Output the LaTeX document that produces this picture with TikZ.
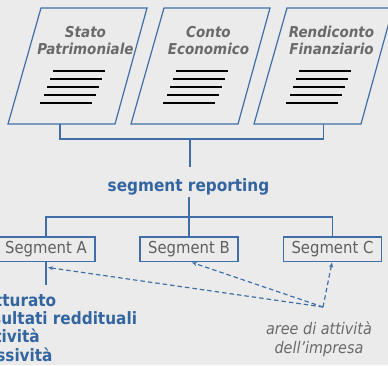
\documentclass[tikz,border=0pt]{standalone}
\usepackage{fontspec}
\setmainfont{DejaVu Sans Condensed}
\usetikzlibrary{arrows.meta}
\definecolor{bg}{HTML}{EBEBEB}
\definecolor{lblue}{HTML}{3F6FA8}
\definecolor{tblue}{HTML}{3366A0}
\definecolor{tgray}{HTML}{6A6A6A}
\definecolor{sgray}{HTML}{606060}
\tikzset{
  docshape/.style={draw=lblue, line width=1.2pt, fill=bg},
  docbar/.style={draw=black, line width=2pt},
  doctitle/.style={text=tgray, font=\bfseries\itshape\fontsize{15}{16.7}\selectfont, align=center, inner sep=0pt, anchor=base},
  conn/.style={draw=lblue, line width=1.2pt},
  segbox/.style={draw=lblue, line width=1.2pt, minimum width=98pt, minimum height=24.5pt, inner sep=0pt, text=sgray, font=\fontsize{16.5}{18}\selectfont},
  srtext/.style={text=tblue, font=\bfseries\fontsize{17}{20}\selectfont, inner sep=0pt, anchor=base},
  listtext/.style={text=tblue, font=\bfseries\fontsize{17}{18.5}\selectfont, inner sep=0pt, anchor=base west},
  areatext/.style={text=tgray, font=\itshape\fontsize{16}{19}\selectfont, inner sep=0pt, anchor=base},
  dasharr/.style={draw=lblue, line width=1.2pt, dash pattern=on 4.5pt off 3pt, -{Stealth[length=5pt,width=4pt]}},
}
\begin{document}
\begin{tikzpicture}[x=1pt,y=-1pt]
\fill[bg] (0,0) rectangle (388,365);
\useasboundingbox (0,0) rectangle (388,365);
% documents
\foreach \dx/\la/\lb [count=\i] in {0/Stato/Patrimoniale, 123/Conto/Economico, 246/Rendiconto/Finanziario}{
  \draw[docshape] (41+\dx,8) -- (147+\dx,8) -- (115+\dx,124) -- (8+\dx,124) -- cycle;
  \node[doctitle] (t\i a) at (85.5+\dx,37.3) {\la};
  \node[doctitle] (t\i b) at (85.5+\dx,54) {\lb};
  \draw[docbar] (53.3+\dx,70.7) -- (105+\dx,70.7);
  \draw[docbar] (50+\dx,79) -- (101.7+\dx,79);
  \draw[docbar] (47.3+\dx,86.7) -- (99+\dx,86.7);
  \draw[docbar] (44.3+\dx,95) -- (96+\dx,95);
  \draw[docbar] (40+\dx,103) -- (91.7+\dx,103);
}
% bracket
\coordinate (b1) at (60,124);
\coordinate (b3) at (323.7,124);
\coordinate (bm) at (190,139);
\coordinate (srt) at (190,167);
\draw[conn] (b1) |- (bm) -| (b3);
\draw[conn] (bm) -- (srt);
\node[srtext] (sr) at (188.5,191.7) {segment reporting};
\coordinate (srb) at (189,197);
\coordinate (h) at (189,217);
\draw[conn] (srb) -- (h);
% segments
\node[segbox] (A) at (46,249.3) {Segment A};
\node[segbox] (B) at (189,249.3) {Segment B};
\node[segbox] (C) at (332.5,249.3) {Segment C};
\draw[conn] (A.north) |- (h) -| (C.north);
\draw[conn] (h) -- (B.north);
\coordinate (Aend) at (46,285);
\draw[conn] (A.south) -- (Aend);
% list
\node[listtext] (l1) at (-25,306) {Fatturato};
\node[listtext] (l2) at (-25,324.3) {Risultati reddituali};
\node[listtext] (l3) at (-25,342.7) {Attività};
\node[listtext] (l4) at (-25,361.7) {Passività};
% dashed arrows
\coordinate (j) at (323,307);
\coordinate (ta) at (48,267.5);
\coordinate (tb) at (192,262.5);
\coordinate (tc) at (332,262.5);
\draw[dasharr] (j) -- (ta);
\draw[dasharr] (j) -- (tb);
\draw[dasharr] (j) -- (tc);
\node[areatext] (ar1) at (319,334) {aree di attività};
\node[areatext] (ar2) at (319,353) {dell’impresa};
\end{tikzpicture}
\end{document}
